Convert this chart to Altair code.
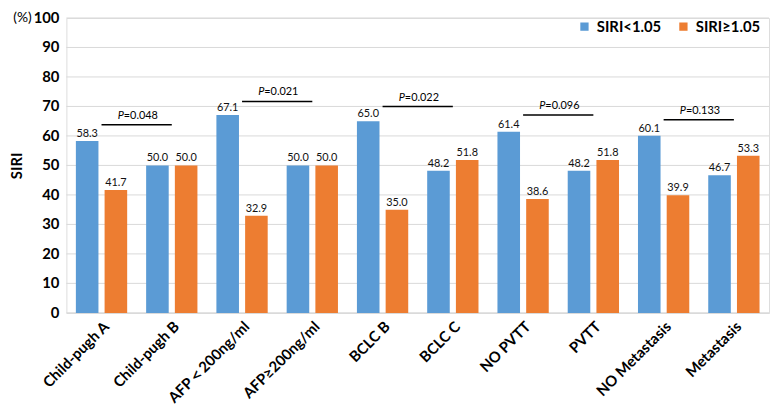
import altair as alt
import pandas as pd

categories = ["Child-pugh A", "Child-pugh B", "AFP＜200ng/ml", "AFP≥200ng/ml",
              "BCLC B", "BCLC C", "NO PVTT", "PVTT", "NO Metastasis", "Metastasis"]
low_vals = [58.3, 50.0, 67.1, 50.0, 65.0, 48.2, 61.4, 48.2, 60.1, 46.7]
high_vals = [41.7, 50.0, 32.9, 50.0, 35.0, 51.8, 38.6, 51.8, 39.9, 53.3]
series = ["SIRI<1.05", "SIRI≥1.05"]
colors = ["#5B9BD5", "#ED7D31"]

p_left = ["Child-pugh A", "AFP＜200ng/ml", "BCLC B", "NO PVTT", "NO Metastasis"]
p_right = ["Child-pugh B", "AFP≥200ng/ml", "BCLC C", "PVTT", "Metastasis"]
p_y = [63.8, 71.7, 70.0, 67.1, 65.5]
p_vals = ["=0.048", "=0.021", "=0.022", "=0.096", "=0.133"]
y_ticks = [0, 10, 20, 30, 40, 50, 60, 70, 80, 90, 100]

rows = []
for c, a, b in zip(categories, low_vals, high_vals):
    rows.append({"cat": c, "series": series[0], "value": a})
    rows.append({"cat": c, "series": series[1], "value": b})
df = pd.DataFrame(rows)
df["label"] = df["value"].map(lambda v: f"{v:.1f}")

pdf = pd.DataFrame({"c1": p_left, "c2": p_right, "y": p_y, "txt": p_vals})
unit_df = pd.DataFrame({"t": ["(%)"], "v": [100]})
tick_df = pd.DataFrame({"tick": y_ticks, "lab": [str(t) for t in y_ticks]})

FONT = "Lato"
xscale = alt.Scale(domain=categories, paddingInner=0.27, paddingOuter=0.135)
yscale = alt.Scale(domain=[0, 100], nice=False)
oscale = alt.Scale(domain=series, paddingInner=0.214)

xaxis = alt.Axis(labelAngle=-45, labelFontSize=15, labelFontWeight="bold",
                 labelColor="#000", labelFont=FONT, ticks=False,
                 domainColor="#d9d9d9", labelPadding=6)
yaxis = alt.Axis(grid=False, labels=False, ticks=False, domain=False,
                 titleFontSize=15, titleFont=FONT, titleFontWeight="bold",
                 titleColor="#000", titlePadding=42)


def X(field):
    return alt.X(field, scale=xscale, title=None, axis=xaxis)


def Y(field):
    return alt.Y(field, scale=yscale, title="SIRI", axis=yaxis)


tchart = alt.Chart(tick_df)
grid = tchart.mark_rule(color="#d9d9d9", strokeWidth=1).encode(
    x=alt.value(0), x2=alt.value(710), y=Y("tick:Q"),
)
ylabels = tchart.mark_text(align="right", baseline="middle", dx=0, fontSize=15,
                           fontWeight="bold", font=FONT, color="#000").encode(
    x=alt.value(-7), y=Y("tick:Q"), text="lab:N",
)

base = alt.Chart(df)
bars = base.mark_bar().encode(
    x=X("cat:N"),
    xOffset=alt.XOffset("series:N", scale=oscale),
    y=Y("value:Q"),
    color=alt.Color("series:N", scale=alt.Scale(domain=series, range=colors),
                    legend=alt.Legend(title=None, orient="none", legendX=516, legendY=1,
                                      direction="horizontal", symbolType="square",
                                      symbolSize=70, labelFontSize=15,
                                      labelFontWeight="bold", labelFont=FONT,
                                      labelColor="#000", columnPadding=14,
                                      labelOffset=5)),
)

vlabels = base.mark_text(baseline="bottom", dy=-2, fontSize=11, font=FONT, color="#111").encode(
    x=X("cat:N"),
    xOffset=alt.XOffset("series:N", scale=oscale),
    y=Y("value:Q"),
    text="label:N",
)

pchart = alt.Chart(pdf)
prules = pchart.mark_rule(color="#000", strokeWidth=1.5).encode(
    x=X("c1:N"),
    x2="c2:N",
    y=Y("y:Q"),
)
ptxt_p = pchart.mark_text(align="right", baseline="bottom", dx=35.5 - 13, dy=-4,
                          fontSize=11, font=FONT, fontStyle="italic", color="#000").encode(
    x=X("c1:N"),
    y=Y("y:Q"),
    text=alt.value("P"),
)
ptxt_v = pchart.mark_text(align="left", baseline="bottom", dx=35.5 - 13, dy=-4,
                          fontSize=11, font=FONT, color="#000").encode(
    x=X("c1:N"),
    y=Y("y:Q"),
    text="txt:N",
)

pct = alt.Chart(unit_df).mark_text(
    align="right", baseline="middle", fontSize=14, font=FONT, color="#000"
).encode(x=alt.value(-35), y=Y("v:Q"), text="t:N")

chart = alt.layer(grid, bars, vlabels, prules, ptxt_p, ptxt_v, ylabels, pct).properties(
    width=710, height=298,
    autosize=alt.AutoSizeParams(type="none"),
    padding={"left": 59, "right": 2, "top": 8, "bottom": 90},
).configure_view(stroke="#d9d9d9").configure(background="white")

chart.save("out.html", embed_options={"renderer": "svg", "actions": False})
